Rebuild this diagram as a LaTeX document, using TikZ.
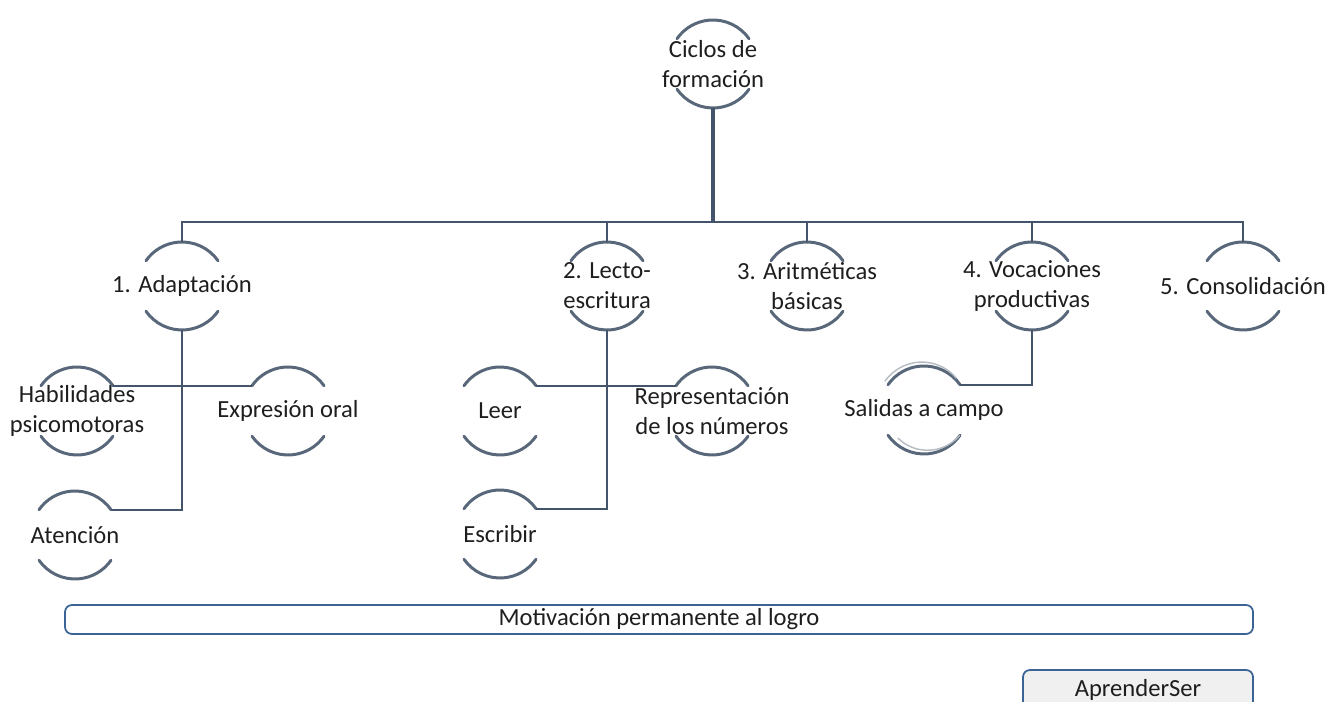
\documentclass[tikz,border=0pt]{standalone}
\usepackage{fontspec}
\setmainfont{Carlito}
\usepackage{xcolor}
\usetikzlibrary{positioning}

\definecolor{pizarra}{RGB}{68,84,106}
\definecolor{arcogris}{RGB}{88,104,122}
\definecolor{textogris}{RGB}{30,30,30}
\definecolor{bordeazul}{RGB}{58,100,150}

\tikzset{
    ciclo/.style={circle, minimum size=1.76cm, inner sep=0pt, outer sep=0pt},
    arco/.style={arcogris, line width=1.7pt, line cap=round},
    enlace/.style={pizarra, line width=1.1pt},
    tronco/.style={pizarra, line width=2pt},
    caja/.style={draw=bordeazul, line width=1pt, rounded corners=4pt}
}

\begin{document}
\begin{tikzpicture}[every label/.style={align=center, text=textogris, font=\fontsize{14}{17}\selectfont}]
    \useasboundingbox (0,0) rectangle (26.54,14.04);

    % Root and first level
    \node[ciclo, label=center:{Ciclos de\\formación}] (raiz) at (14.26,12.76) {};
    \node[ciclo, label=center:{1. Adaptación}] (adapt) at (3.64,8.32) {};
    \node[ciclo, label=center:{2. Lecto-\\escritura}] (lecto) at (12.14,8.32) {};
    \node[ciclo, label=center:{3. Aritméticas\\básicas}] (arit) at (16.14,8.32) {};
    \node[ciclo, label=center:{4. Vocaciones\\productivas}] (vocac) at (20.64,8.32) {};
    \node[ciclo, label=center:{5. Consolidación}] (consol) at (24.86,8.32) {};

    % Second level
    \node[ciclo, label=center:{Habilidades\\psicomotoras}] (habil) at (1.54,5.82) {};
    \node[ciclo, label=center:{Expresión oral}] (expr) at (5.76,5.82) {};
    \node[ciclo, label=center:{Atención}] (atenc) at (1.50,3.34) {};
    \node[ciclo, label=center:{Leer}] (leer) at (10.00,5.82) {};
    \node[ciclo, label=center:{Representación\\de los números}] (repre) at (14.24,5.82) {};
    \node[ciclo, label=center:{Escribir}] (escrib) at (10.00,3.36) {};
    \node[ciclo, label=center:{Salidas a campo}] (salidas) at (18.48,5.84) {};

    % Arcs above and below each circle
    \foreach \n in {raiz, adapt, lecto, arit, vocac, consol, habil, expr, atenc, leer, repre, escrib, salidas} {
        \draw[arco] (\n.35) arc (35:145:0.88cm);
        \draw[arco] (\n.215) arc (215:325:0.88cm);
    }
    \draw[arcogris!45, line width=0.8pt] ([shift={(-0.06,0.07)}]salidas.145) arc (145:40:0.9cm);
    \draw[arcogris!45, line width=0.8pt] ([shift={(0.04,0.06)}]salidas.320) arc (320:225:0.84cm);

    % Connectors
    \coordinate (bus) at (14.26,9.60);
    \draw[tronco] (raiz.south) -- (bus);
    \draw[enlace] (adapt.north) -- (adapt.north |- bus) -- (consol.north |- bus) -- (consol.north);
    \foreach \n in {lecto, arit, vocac}
        \draw[enlace] (\n.north) -- (\n.north |- bus);

    \draw[enlace] (adapt.south) -- (adapt.south |- atenc.35) -- (atenc.35);
    \draw[enlace] (habil.35) -- (expr.145);
    \draw[enlace] (lecto.south) -- (lecto.south |- escrib.35) -- (escrib.35);
    \draw[enlace] (leer.35) -- (repre.145);
    \draw[enlace] (vocac.south) |- (salidas.35);

    % Bottom boxes
    \node[caja, fill=white, minimum width=23.76cm, minimum height=0.58cm, inner sep=0pt,
          text=textogris, font=\fontsize{14}{15}\selectfont] (motiv) at (13.18,1.65) {Motivación permanente al logro};
    \begin{scope}
        \clip (0,0) rectangle (26.54,14.04);
        \node[caja, fill=black!6, minimum width=4.6cm, minimum height=0.8cm, inner sep=0pt] (aprender) at (22.76,0.24) {};
    \end{scope}
    \node[text=textogris, font=\fontsize{14}{15}\selectfont] (aprtexto) at (aprender.center) {AprenderSer};
\end{tikzpicture}
\end{document}
